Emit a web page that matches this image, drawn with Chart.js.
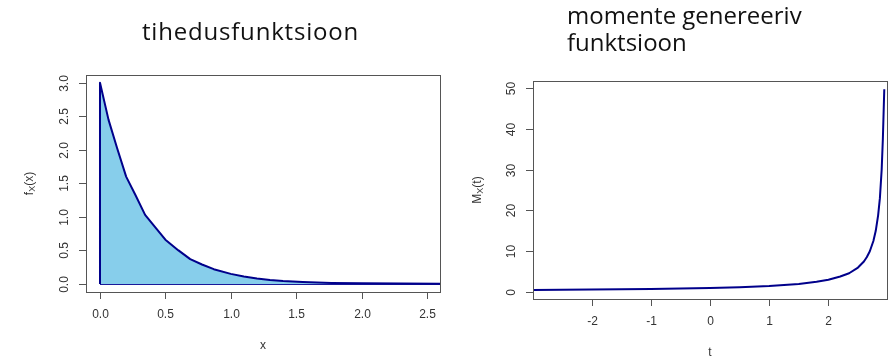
<!DOCTYPE html>
<html lang="et">
<head>
    <meta charset="UTF-8">
    <title>tihedusfunktsioon ja momente genereeriv funktsioon</title>
    <style>
        body { margin: 0; padding: 0; background: #fff; }
        .wrap { position: relative; width: 890px; height: 359px; overflow: hidden; }
        canvas { position: absolute; top: 0; }
        #densChart { left: 0; }
        #mgfChart { left: 445px; }
        .title {
            position: absolute;
            font-family: "Open Sans", Lato, sans-serif;
            font-size: 24px;
            color: #111;
            white-space: nowrap;
        }
        #t1 { left: 142px; top: 16px; line-height: 30px; letter-spacing: 0.8px; }
        #t2 { left: 567px; top: 2px; line-height: 26.7px; }
    </style>
</head>
<body>
<div class="wrap">
    <canvas id="densChart" width="445" height="359"></canvas>
    <canvas id="mgfChart" width="445" height="359"></canvas>
    <div class="title" id="t1">tihedusfunktsioon</div>
    <div class="title" id="t2">momente genereeriv<br>funktsioon</div>
</div>
<script src="https://cdn.jsdelivr.net/npm/chart.js"></script>
<script>
    // density curve, starts with the vertical edge at x = 0
    var densX = [0, 0, 0.065, 0.13, 0.2, 0.27, 0.345, 0.42, 0.5, 0.6, 0.69, 0.78, 0.87, 1.0, 1.1, 1.2, 1.3, 1.4, 1.55, 1.77, 2.0, 2.3, 2.7];
    var densY = [0, 3.0, 2.45, 2.03, 1.6, 1.33, 1.03, 0.85, 0.66, 0.5, 0.37, 0.29, 0.22, 0.15, 0.11, 0.08, 0.06, 0.045, 0.03, 0.016, 0.01, 0.006, 0.004];
    // bottom edge of the shaded polygon
    var baseX = [0, 2.7];
    var baseY = [0, 0];

    // moment generating function
    var mgfT = [-3.0, -2.5, -2.0, -1.5, -1.0, -0.5, 0, 0.5, 1.0, 1.5, 1.8, 2.0, 2.2, 2.35, 2.5, 2.6, 2.65, 2.7, 2.76, 2.8, 2.84, 2.87, 2.9, 2.92, 2.944];
    var mgfY = [0.5, 0.55, 0.6, 0.67, 0.75, 0.85, 1.0, 1.2, 1.5, 2.0, 2.5, 3.0, 3.8, 4.6, 6.0, 7.5, 8.6, 10.0, 12.5, 15, 18.8, 23, 30, 37.5, 49.7];

    // ticks
    var densXTicks = [0, 0.5, 1.0, 1.5, 2.0, 2.5];
    var densXLabels = ['0.0', '0.5', '1.0', '1.5', '2.0', '2.5'];
    var densYTicks = [0, 0.5, 1.0, 1.5, 2.0, 2.5, 3.0];
    var densYLabels = ['0.0', '0.5', '1.0', '1.5', '2.0', '2.5', '3.0'];
    var mgfXTicks = [-2, -1, 0, 1, 2];
    var mgfXLabels = ['-2', '-1', '0', '1', '2'];
    var mgfYTicks = [0, 10, 20, 30, 40, 50];
    var mgfYLabels = ['0', '10', '20', '30', '40', '50'];

    var axisFont = '12px "Liberation Sans", Arial, sans-serif';
    var subFont = '9px "Liberation Sans", Arial, sans-serif';

    // R-style box, outward ticks, rotated y labels and axis titles
    var rFrame = {
        id: 'rFrame',
        afterDraw: function(chart, args, o) {
            var ctx = chart.ctx, a = chart.chartArea;
            var sx = chart.scales.x, sy = chart.scales.y;
            ctx.save();
            ctx.strokeStyle = '#555';
            ctx.lineWidth = 1;
            ctx.strokeRect(Math.round(a.left) + 0.5, Math.round(a.top) + 0.5,
                Math.round(a.right - a.left), Math.round(a.bottom - a.top));

            ctx.fillStyle = '#333';
            ctx.font = axisFont;
            ctx.textAlign = 'center';
            ctx.textBaseline = 'middle';

            o.xTicks.forEach(function(v, i) {
                var px = Math.round(sx.getPixelForValue(v)) + 0.5;
                ctx.beginPath();
                ctx.moveTo(px, a.bottom);
                ctx.lineTo(px, a.bottom + 7);
                ctx.stroke();
                ctx.fillText(o.xLabels[i], px, a.bottom + 23);
            });
            o.yTicks.forEach(function(v, i) {
                var py = Math.round(sy.getPixelForValue(v)) + 0.5;
                ctx.beginPath();
                ctx.moveTo(a.left - 7, py);
                ctx.lineTo(a.left, py);
                ctx.stroke();
                ctx.save();
                ctx.translate(a.left - 21, py);
                ctx.rotate(-Math.PI / 2);
                ctx.fillText(o.yLabels[i], 0, 0);
                ctx.restore();
            });

            // x title
            ctx.fillText(o.xTitle, (a.left + a.right) / 2, a.bottom + 54);

            // y title with subscript
            ctx.save();
            ctx.translate(a.left - o.yTitleOff, (a.top + a.bottom) / 2);
            ctx.rotate(-Math.PI / 2);
            ctx.textAlign = 'left';
            ctx.font = axisFont;
            var w1 = ctx.measureText(o.yMain).width;
            var w3 = ctx.measureText(o.yTail).width;
            ctx.font = subFont;
            var w2 = ctx.measureText(o.ySub).width;
            var x0 = -(w1 + w2 + w3) / 2;
            ctx.font = axisFont;
            ctx.fillText(o.yMain, x0, 0);
            ctx.font = subFont;
            ctx.fillText(o.ySub, x0 + w1, 3);
            ctx.font = axisFont;
            ctx.fillText(o.yTail, x0 + w1 + w2, 0);
            ctx.restore();

            ctx.restore();
        }
    };

    function pts(xs, ys) {
        return xs.map(function(x, i) { return { x: x, y: ys[i] }; });
    }

    new Chart(document.getElementById('densChart').getContext('2d'), {
        type: 'scatter',
        data: {
            datasets: [{
                data: pts(densX, densY),
                showLine: true,
                fill: 'origin',
                backgroundColor: '#87CEEB',
                borderColor: '#00008B',
                borderWidth: 2,
                borderJoinStyle: 'round',
                pointRadius: 0,
                tension: 0
            }, {
                data: pts(baseX, baseY),
                showLine: true,
                fill: false,
                borderColor: '#1a1a9a',
                borderWidth: 2,
                pointRadius: 0
            }]
        },
        options: {
            responsive: false,
            animation: false,
            devicePixelRatio: 1,
            layout: { padding: { left: 86, top: 75, right: 5, bottom: 67 } },
            plugins: {
                legend: { display: false },
                tooltip: { enabled: false },
                rFrame: {
                    xTicks: densXTicks, xLabels: densXLabels,
                    yTicks: densYTicks, yLabels: densYLabels,
                    xTitle: 'x', yMain: 'f', ySub: 'X', yTail: '(x)', yTitleOff: 56
                }
            },
            scales: {
                x: { type: 'linear', display: false, min: -0.107, max: 2.6 },
                y: { type: 'linear', display: false, min: -0.12, max: 3.115 }
            }
        },
        plugins: [rFrame]
    });

    new Chart(document.getElementById('mgfChart').getContext('2d'), {
        type: 'scatter',
        data: {
            datasets: [{
                data: pts(mgfT, mgfY),
                showLine: true,
                fill: false,
                borderColor: '#00008B',
                borderWidth: 2,
                borderJoinStyle: 'round',
                pointRadius: 0,
                tension: 0
            }]
        },
        options: {
            responsive: false,
            animation: false,
            devicePixelRatio: 1,
            layout: { padding: { left: 88, top: 81, right: 3, bottom: 60 } },
            plugins: {
                legend: { display: false },
                tooltip: { enabled: false },
                rFrame: {
                    xTicks: mgfXTicks, xLabels: mgfXLabels,
                    yTicks: mgfYTicks, yLabels: mgfYLabels,
                    xTitle: 't', yMain: 'M', ySub: 'X', yTail: '(t)', yTitleOff: 55
                }
            },
            scales: {
                x: { type: 'linear', display: false, min: -2.99, max: 2.99 },
                y: { type: 'linear', display: false, min: -1.7, max: 51.7 }
            }
        },
        plugins: [rFrame]
    });
</script>
</body>
</html>
